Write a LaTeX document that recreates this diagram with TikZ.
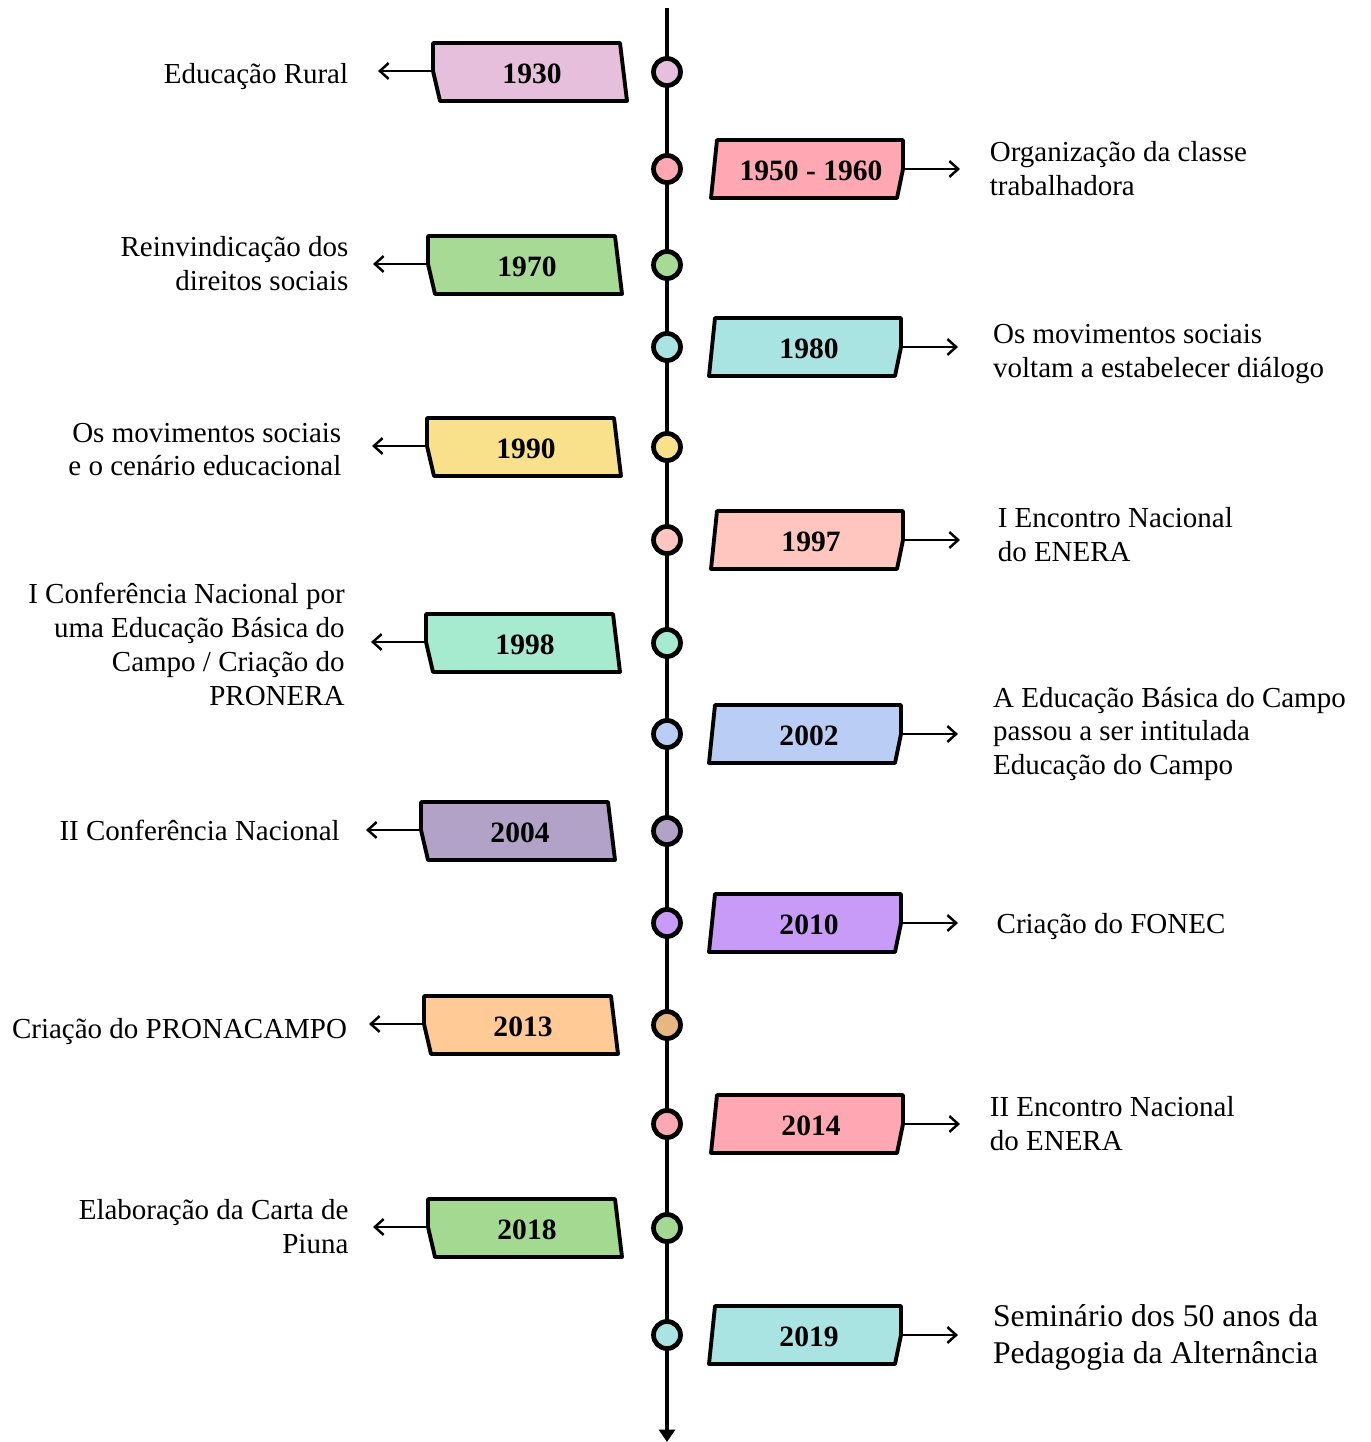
\documentclass[tikz,border=0pt]{standalone}
\usepackage{fontspec}
\setmainfont{Liberation Serif}
\usetikzlibrary{arrows.meta}

\definecolor{c1930}{HTML}{E6BFDD}
\definecolor{c1950}{HTML}{FFA7B3}
\definecolor{c1970}{HTML}{A6DA95}
\definecolor{c1980}{HTML}{A9E4E2}
\definecolor{c1990}{HTML}{F9E18C}
\definecolor{c1997}{HTML}{FFC6C0}
\definecolor{c1998}{HTML}{A6EBCF}
\definecolor{c2002}{HTML}{BACDF4}
\definecolor{c2004}{HTML}{B2A2C7}
\definecolor{c2010}{HTML}{C99BF8}
\definecolor{c2013}{HTML}{FFCA95}
\definecolor{d2013}{HTML}{E6B77E}
\definecolor{c2014}{HTML}{FFA7B3}
\definecolor{c2018}{HTML}{A3D991}
\definecolor{c2019}{HTML}{A9E4E2}

\tikzset{
  boxline/.style={line width=2.2pt, draw=black, line join=round},
  yearlabel/.style={font=\fontsize{16.8}{19}\selectfont\bfseries, inner sep=0pt},
  dot/.style={circle, draw=black, line width=2.7pt, minimum size=0.54cm, inner sep=0pt},
  lefttext/.style={anchor=east, align=right, inner sep=0pt, outer xsep=15pt, font=\fontsize{16.5}{19.3}\selectfont},
  righttext/.style={anchor=west, align=left, inner sep=0pt, outer xsep=19pt, font=\fontsize{16.5}{19.3}\selectfont},
  link/.style={line width=1.4pt, -{Straight Barb[length=5pt,width=9pt]}},
  spine/.style={line width=1.8pt, -{Triangle[length=7pt,width=9pt]}},
}

% [label options]{key}{x left}{y top}{box colour}{dot colour}{year}{arrow end x}{text}
\newcommand{\leftyear}[9][]{%
  \draw[boxline, fill=#5] (#3,#4) -- (#3+187,#4) -- (#3+194,#4+58) -- (#3+7,#4+58) -- (#3,#4+28) -- cycle;
  \node[yearlabel] (y#2) at (#3+99,#4+31) {#7};
  \node[dot, fill=#6] (c#2) at (667,#4+29) {};
  \coordinate (a#2) at (#3,#4+28);
  \node[lefttext, #1] (t#2) at (#8,#4+28) {#9};
  \draw[link] (a#2) -- (a#2 -| t#2.east);
}
\newcommand{\rightyear}[9][]{%
  \draw[boxline, fill=#5] (#3+6,#4) -- (#3+192,#4) -- (#3+192,#4+29) -- (#3+186,#4+58) -- (#3,#4+58) -- cycle;
  \node[yearlabel] (y#2) at (#3+100,#4+31) {#7};
  \node[dot, fill=#6] (c#2) at (667,#4+29) {};
  \coordinate (a#2) at (#3+192,#4+29);
  \node[righttext, #1] (t#2) at (#8,#4+29) {#9};
  \draw[link] (a#2) -- (a#2 -| t#2.west);
}

\begin{document}
\begin{tikzpicture}[x=0.02cm, y=-0.02cm]
\useasboundingbox (0,0) rectangle (1370,1442);

% timeline
\coordinate (top) at (667,8);
\coordinate (bottom) at (667,1442);
\draw[spine] (top) -- (bottom);

\leftyear[yshift=-3.4pt, outer xsep=17pt]{1930}{433}{43}{c1930}{c1930}{1930}{378}{Educação Rural}
\rightyear[outer xsep=17pt]{1950}{711}{140}{c1950}{c1950}{1950 - 1960}{960}{Organização da classe\\trabalhadora}
\leftyear[outer xsep=14pt]{1970}{428}{236}{c1970}{c1970}{1970}{373}{Reinvindicação dos\\direitos sociais}
\rightyear[yshift=-4pt, outer xsep=20pt]{1980}{709}{318}{c1980}{c1980}{1980}{958}{Os movimentos sociais\\voltam a estabelecer diálogo}
\leftyear[yshift=-2pt, outer xsep=17.5pt]{1990}{427}{418}{c1990}{c1990}{1990}{372}{Os movimentos sociais\\e o cenário educacional}
\rightyear[yshift=3pt, outer xsep=21.5pt]{1997}{711}{511}{c1997}{c1997}{1997}{960}{I Encontro Nacional\\do ENERA}
\leftyear[yshift=-1.5pt]{1998}{426}{614}{c1998}{c1998}{1998}{371}{I Conferência Nacional por\\uma Educação Básica do\\Campo / Criação do\\PRONERA}
\rightyear[outer xsep=20pt]{2002}{709}{705}{c2002}{c2002}{2002}{958}{A Educação Básica do Campo\\passou a ser intitulada\\Educação do Campo}
\leftyear{2004}{421}{802}{c2004}{c2004}{2004}{366}{II Conferência Nacional}
\rightyear[yshift=-2pt, outer xsep=22pt]{2010}{709}{894}{c2010}{c2010}{2010}{958}{Criação do FONEC}
\leftyear[yshift=-4pt, outer xsep=12.5pt]{2013}{424}{996}{c2013}{d2013}{2013}{369}{Criação do PRONACAMPO}
\rightyear[outer xsep=17pt]{2014}{711}{1095}{c2014}{c2014}{2014}{960}{II Encontro Nacional\\do ENERA}
\leftyear[outer xsep=14pt]{2018}{428}{1199}{c2018}{c2018}{2018}{373}{Elaboração da Carta de\\Piuna}
\rightyear[font=\fontsize{18}{21}\selectfont, yshift=-1.5pt, outer xsep=20pt]{2019}{709}{1306}{c2019}{c2019}{2019}{958}{Seminário dos 50 anos da\\Pedagogia da Alternância}
\end{tikzpicture}
\end{document}
